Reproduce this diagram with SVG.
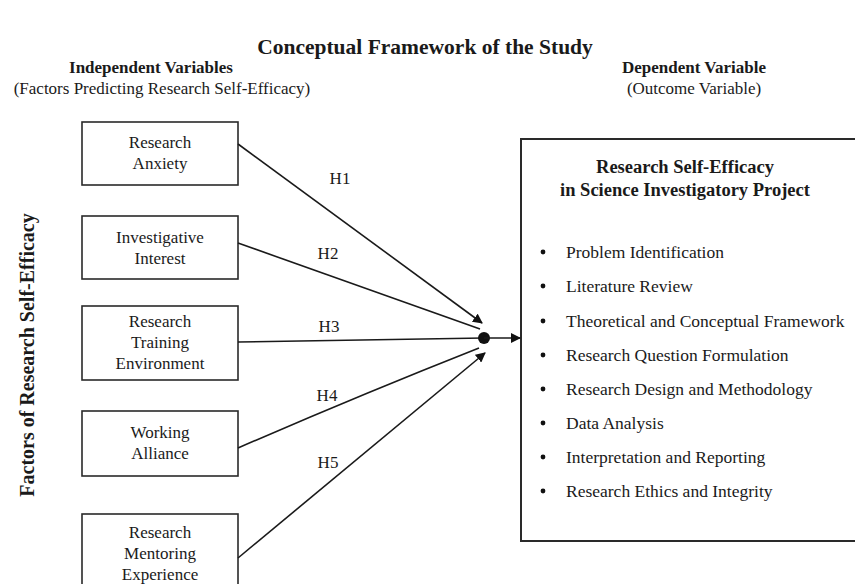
<svg xmlns="http://www.w3.org/2000/svg" width="855" height="584" viewBox="0 0 855 584">
<defs>
<style>
text{font-family:"Liberation Serif","Times New Roman",serif;fill:#1a1a1a}
.t{font-size:21.5px;font-weight:bold}
.h{font-size:17px;font-weight:bold}
.s{font-size:17px}
.n{font-size:17px}
.box{fill:#fff;stroke:#2a2a2a;stroke-width:1.6}
.ln{fill:none;stroke:#1a1a1a;stroke-width:1.6}
.li{font-size:17.5px}
.bt{font-size:18.5px;font-weight:bold}
</style>
<marker id="ah" markerWidth="10" markerHeight="10" refX="9" refY="5" orient="auto" markerUnits="userSpaceOnUse">
<path d="M0,0 L10,5 L0,10 z" fill="#111"/>
</marker>
</defs>
<rect width="855" height="584" fill="#fff"/>
<text class="t" x="425" y="54" text-anchor="middle">Conceptual Framework of the Study</text>
<text class="h" x="151" y="73" text-anchor="middle">Independent Variables</text>
<text class="s" x="162" y="94" text-anchor="middle">(Factors Predicting Research Self-Efficacy)</text>
<text class="h" x="694" y="73" text-anchor="middle">Dependent Variable</text>
<text class="s" x="694" y="94" text-anchor="middle">(Outcome Variable)</text>
<text class="h" style="font-size:20px" transform="translate(34,355) rotate(-90)" text-anchor="middle">Factors of Research Self-Efficacy</text>

<g id="n1"><rect class="box" x="82" y="122" width="156" height="63"/>
<text class="n" x="160" y="148" text-anchor="middle">Research</text>
<text class="n" x="160" y="169" text-anchor="middle">Anxiety</text></g>
<g id="n2"><rect class="box" x="82" y="216" width="156" height="63"/>
<text class="n" x="160" y="243" text-anchor="middle">Investigative</text>
<text class="n" x="160" y="264" text-anchor="middle">Interest</text></g>
<g id="n3"><rect class="box" x="82" y="306" width="156" height="74"/>
<text class="n" x="160" y="327" text-anchor="middle">Research</text>
<text class="n" x="160" y="348" text-anchor="middle">Training</text>
<text class="n" x="160" y="369" text-anchor="middle">Environment</text></g>
<g id="n4"><rect class="box" x="82" y="411" width="156" height="65"/>
<text class="n" x="160" y="438" text-anchor="middle">Working</text>
<text class="n" x="160" y="459" text-anchor="middle">Alliance</text></g>
<g id="n5"><rect class="box" x="82" y="514" width="156" height="80"/>
<text class="n" x="160" y="538" text-anchor="middle">Research</text>
<text class="n" x="160" y="559" text-anchor="middle">Mentoring</text>
<text class="n" x="160" y="580" text-anchor="middle">Experience</text></g>

<g id="outcome"><rect class="box" x="521" y="139" width="345" height="402" style="stroke-width:2"/>
<text class="bt" x="685" y="173" text-anchor="middle">Research Self-Efficacy</text>
<text class="bt" x="685" y="196" text-anchor="middle">in Science Investigatory Project</text>
<g class="li">
<circle cx="543" cy="252" r="2.4" fill="#111"/><text x="566" y="258">Problem Identification</text>
<circle cx="543" cy="286" r="2.4" fill="#111"/><text x="566" y="292">Literature Review</text>
<circle cx="543" cy="321" r="2.4" fill="#111"/><text x="566" y="327">Theoretical and Conceptual Framework</text>
<circle cx="543" cy="355" r="2.4" fill="#111"/><text x="566" y="361">Research Question Formulation</text>
<circle cx="543" cy="389" r="2.4" fill="#111"/><text x="566" y="395">Research Design and Methodology</text>
<circle cx="543" cy="423" r="2.4" fill="#111"/><text x="566" y="429">Data Analysis</text>
<circle cx="543" cy="457" r="2.4" fill="#111"/><text x="566" y="463">Interpretation and Reporting</text>
<circle cx="543" cy="491" r="2.4" fill="#111"/><text x="566" y="497">Research Ethics and Integrity</text>
</g></g>

<g id="connectors">
<path class="ln" d="M238,144 L482,323" marker-end="url(#ah)"/>
<path class="ln" d="M238,243 L480,329"/>
<path class="ln" d="M238,342 L484,338"/>
<path class="ln" d="M238,448 Q360,395 479,348"/>
<path class="ln" d="M238,558 L485,353" marker-end="url(#ah)"/>
<circle cx="484" cy="338" r="6" fill="#111"/>
<path class="ln" d="M484,338 L520,338" marker-end="url(#ah)"/>
<g class="n">
<text x="340" y="184" text-anchor="middle">H1</text>
<text x="328" y="259" text-anchor="middle">H2</text>
<text x="329" y="332" text-anchor="middle">H3</text>
<text x="327" y="401" text-anchor="middle">H4</text>
<text x="328" y="468" text-anchor="middle">H5</text>
</g>
</g>
</svg>
